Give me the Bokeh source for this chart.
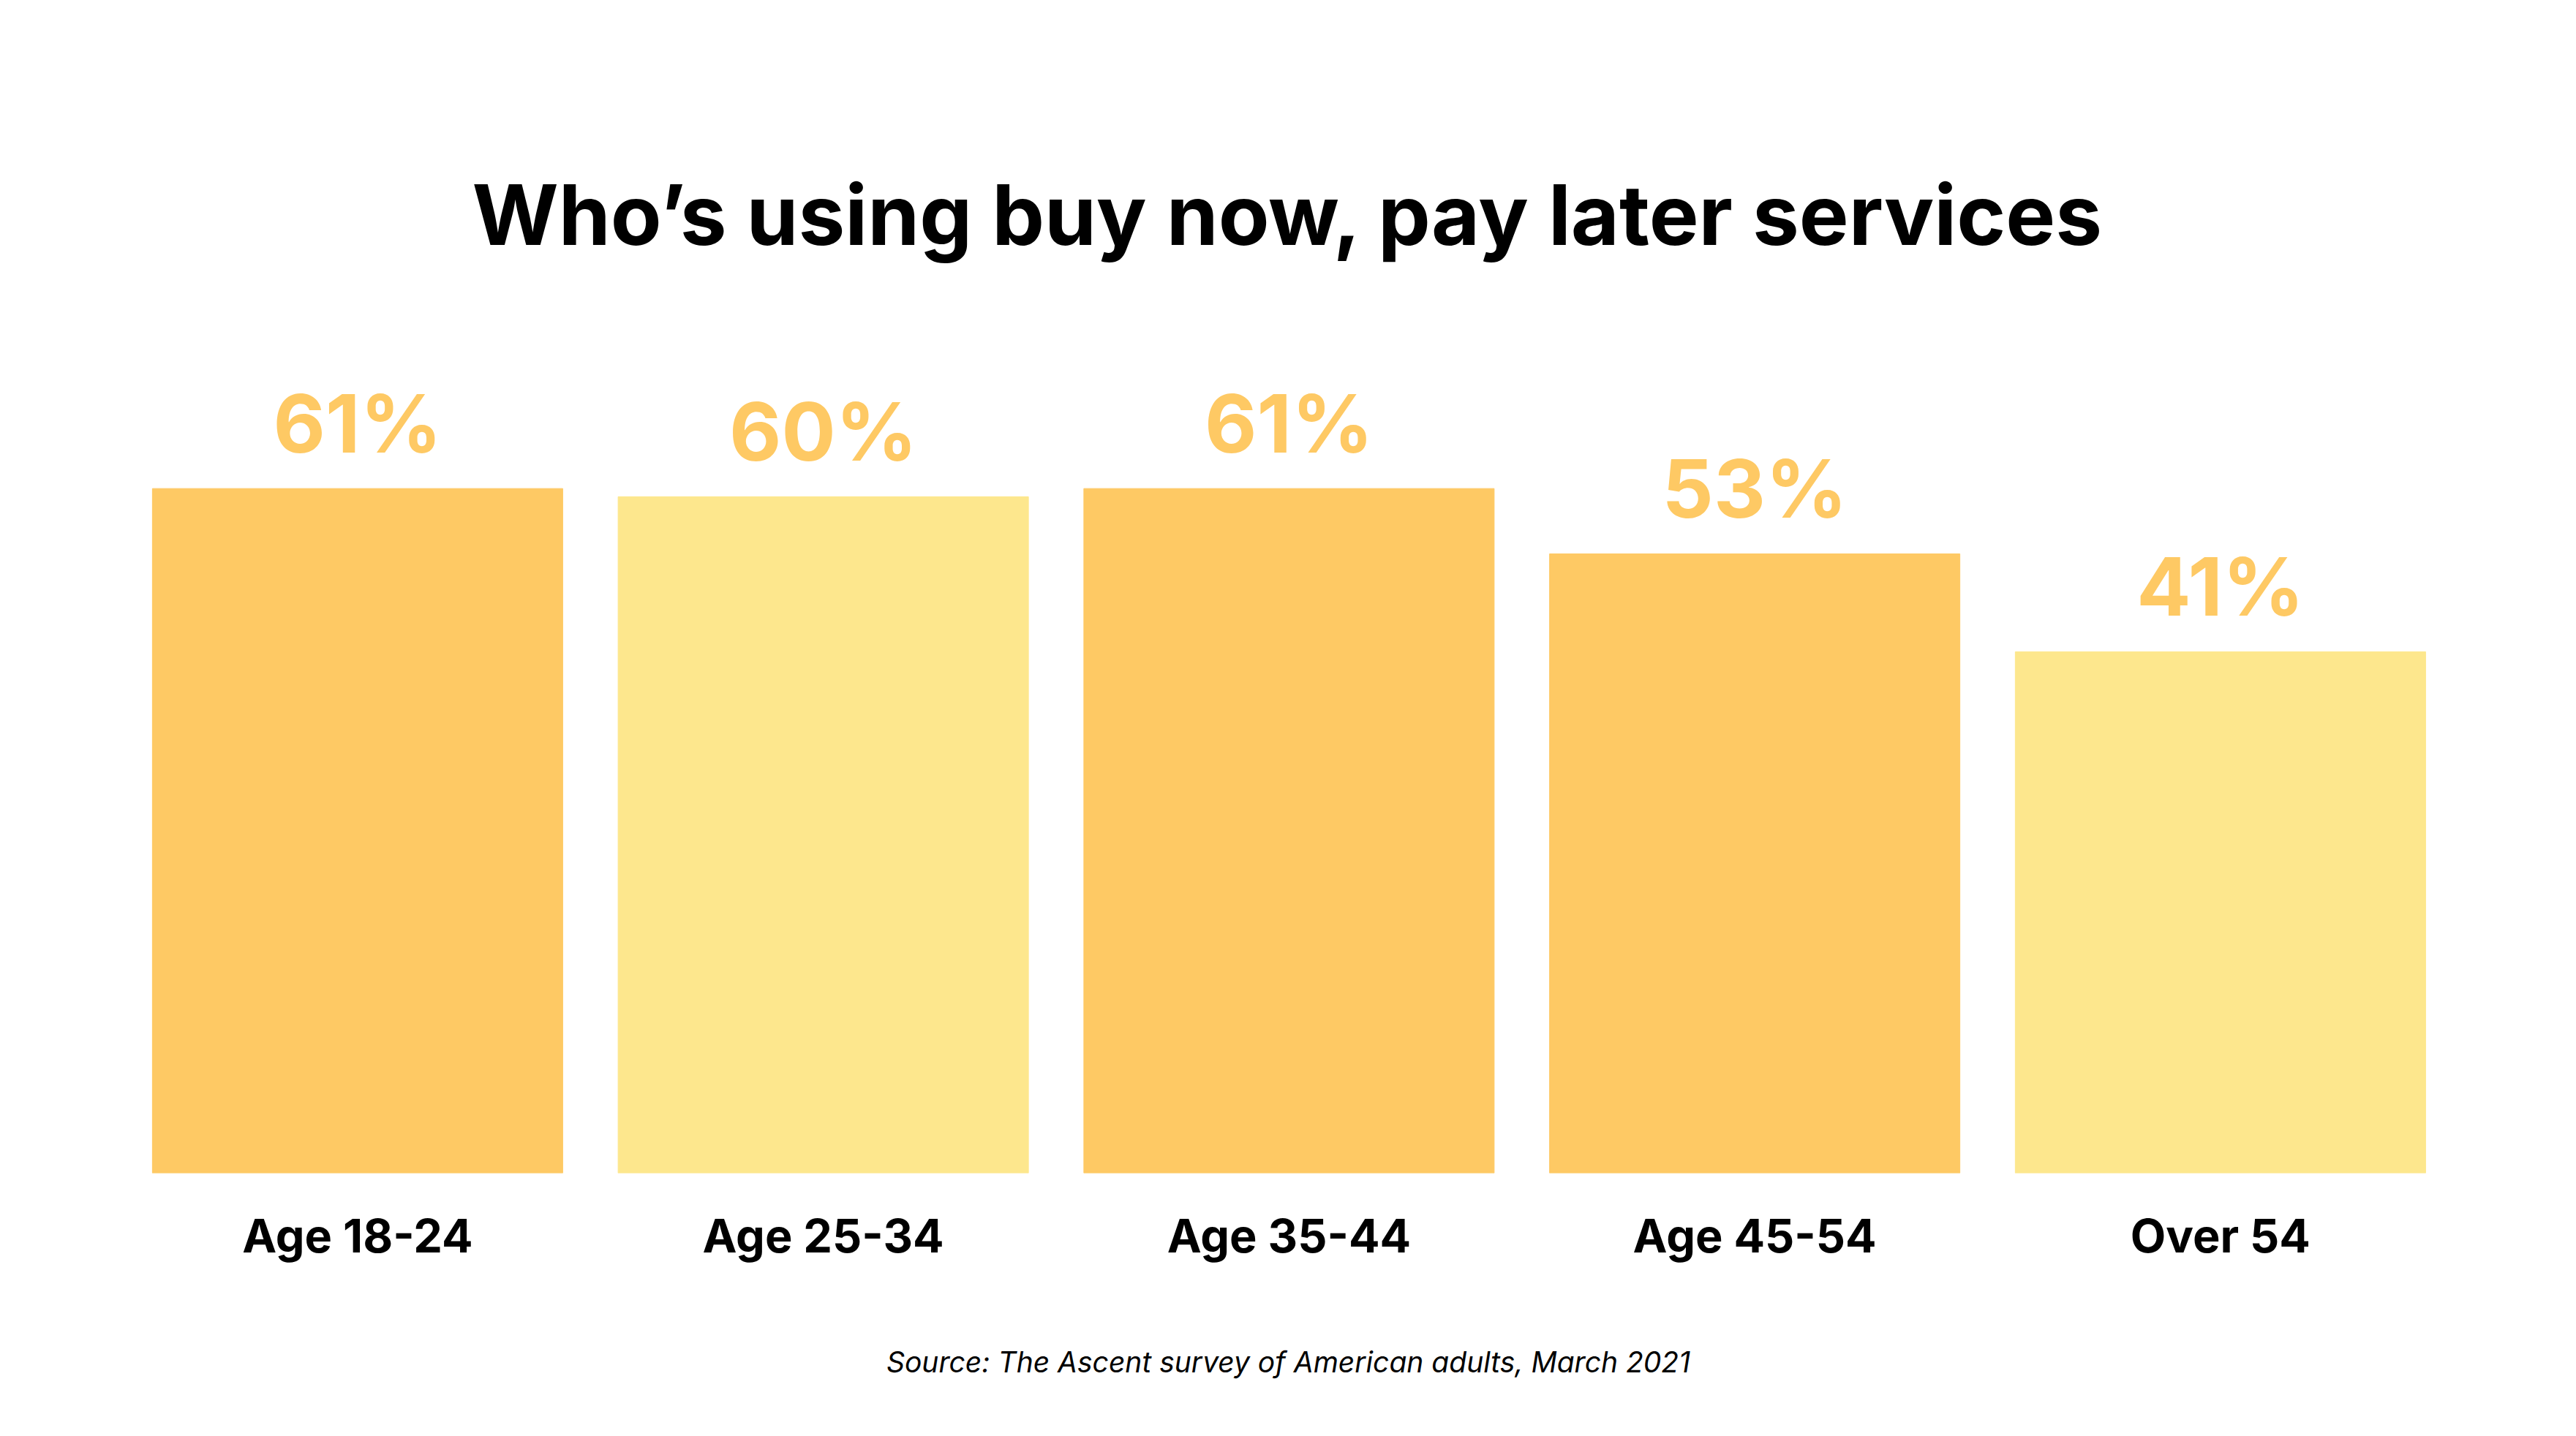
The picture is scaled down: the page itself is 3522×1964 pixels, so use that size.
from bokeh.plotting import figure
from bokeh.models import Range1d, FixedTicker, Label, ColumnDataSource
from bokeh.embed import file_html
from bokeh.resources import INLINE
from bokeh.core.properties import value

# ---- data ----
categories = ["Age 18-24", "Age 25-34", "Age 35-44", "Age 45-54", "Over 54"]
shares = [61, 60, 61, 53, 41]
value_labels = ["61%", "60%", "61%", "53%", "41%"]
bar_colors = ["#FEC964", "#FDE78D", "#FEC964", "#FEC964", "#FDE78D"]
title_text = "Who\u2019s using buy now, pay later services"
source_text = "Source: The Ascent survey of American adults, March 2021"

# ---- layout ----
W, H = 3522, 1964
BOTTOM_PANEL = 360
FRAME_H = H - BOTTOM_PANEL
SLOT = 636.75          # px per category
LEFT_PAD = 170         # px from canvas left to first slot
PX_PER_PCT = 11.16
BASE = -22.9
FONT = value("Inter")

xs = [i + 0.5 for i in range(len(categories))]
x_start = -LEFT_PAD / SLOT
x_end = x_start + W / SLOT
y_end = BASE + FRAME_H / PX_PER_PCT

src = ColumnDataSource(dict(x=xs, top=shares, label=value_labels, color=bar_colors))

p = figure(width=W, height=H, output_backend="svg", toolbar_location=None, tools="",
           title=None, x_range=Range1d(x_start, x_end), y_range=Range1d(BASE, y_end),
           y_axis_location=None, x_axis_location="below",
           min_border_left=0, min_border_right=0, min_border_top=0,
           min_border_bottom=BOTTOM_PANEL)
p.background_fill_color = "white"
p.border_fill_color = "white"
p.outline_line_color = None
p.grid.visible = False

p.vbar(x="x", top="top", bottom=BASE, width=561 / SLOT, color="color", source=src)

p.text(x="x", y="top", text="label", source=src, text_font=FONT, text_font_style="bold",
       text_font_size="110px", text_color="#FEC964", text_align="center",
       text_baseline="alphabetic", y_offset=-89)

ax = p.xaxis[0]
ax.ticker = FixedTicker(ticks=xs)
ax.major_label_overrides = {x: c for x, c in zip(xs, categories)}
ax.axis_line_color = None
ax.major_tick_line_color = None
ax.minor_tick_line_color = None
ax.major_tick_out = 0
ax.major_tick_in = 0
ax.major_label_standoff = 47
ax.major_label_text_font = "Inter"
ax.major_label_text_font_style = "bold"
ax.major_label_text_font_size = "63px"
ax.major_label_text_color = "black"
ax.axis_label = source_text
ax.axis_label_text_font = "Inter"
ax.axis_label_text_font_style = "italic"
ax.axis_label_text_font_size = "39px"
ax.axis_label_text_color = "black"
ax.axis_label_standoff = 108

mid = (W / 2 - LEFT_PAD) / SLOT
p.add_layout(Label(x=mid, y=FRAME_H - 293, x_units="data", y_units="screen", text=title_text,
                   text_font="Inter", text_font_style="bold", text_font_size="114px",
                   text_color="black", text_align="center", text_baseline="alphabetic"))

open("out.html", "w").write(file_html(p, INLINE))
